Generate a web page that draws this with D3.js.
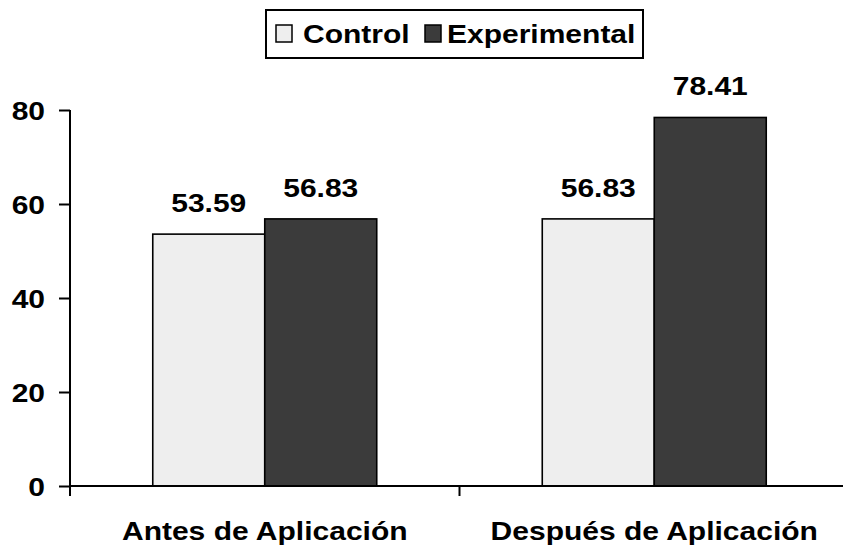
<!DOCTYPE html>
<html>
<head>
<meta charset="utf-8">
<script src="https://cdn.jsdelivr.net/npm/d3@7"></script>
<style>
  html, body { margin: 0; padding: 0; background: #fff; }
  svg text { font-family: "Liberation Sans", Arial, sans-serif; font-weight: bold; fill: #000; }
</style>
</head>
<body>
<svg id="chart" width="843" height="548"></svg>
<script>
const categories = ["Antes de Aplicación", "Después de Aplicación"];
const seriesNames = ["Control", "Experimental"];
const controlValues = [53.59, 56.83];
const experimentalValues = [56.83, 78.41];
const yTicks = [0, 20, 40, 60, 80];
const colors = ["#eeeeee", "#3b3b3b"];

const seriesValues = [controlValues, experimentalValues];
const data = categories.map((c, i) => ({
  category: c,
  values: seriesNames.map((s, j) => ({ series: s, value: seriesValues[j][i], color: colors[j] }))
}));

const svg = d3.select("#chart");
const SX = 1.2;      // horizontal text stretch seen in the reference
const FS = 25;

const plotLeft = 70, plotRight = 849, plotTop = 110, plotBottom = 486;
const x0 = d3.scaleBand().domain(categories).range([plotLeft, plotRight]).padding(0);
const x1 = d3.scaleBand().domain(seriesNames).range([0, x0.bandwidth()])
  .paddingInner(0).paddingOuter(0.739);
const y = d3.scaleLinear().domain([0, 80]).range([plotBottom, plotTop]);

function stretchedText(g, x, yy, txt, anchor) {
  return g.append("text")
    .attr("transform", `translate(${x},${yy}) scale(${SX},1)`)
    .attr("text-anchor", anchor)
    .style("font-size", FS + "px")
    .text(txt);
}

// Bars
const groups = svg.append("g").selectAll("g").data(data).join("g")
  .attr("transform", d => `translate(${x0(d.category)},0)`);

groups.selectAll("rect").data(d => d.values).join("rect")
  .attr("x", d => x1(d.series))
  .attr("y", d => y(d.value))
  .attr("width", x1.bandwidth())
  .attr("height", d => y(0) - y(d.value))
  .attr("fill", d => d.color)
  .attr("stroke", "#000")
  .attr("stroke-width", 1.6);

// Value labels
groups.each(function(d) {
  const g = d3.select(this);
  d.values.forEach(v => {
    stretchedText(g, x1(v.series) + x1.bandwidth() / 2, y(v.value) - 22, v.value.toFixed(2), "middle");
  });
});

// Y axis
const yAxis = d3.axisLeft(y).tickValues(yTicks).tickSize(11).tickPadding(0).tickFormat(d3.format("d"));
const yg = svg.append("g").attr("transform", `translate(${plotLeft},0)`).call(yAxis);
yg.select(".domain").remove();
yg.selectAll(".tick line").attr("stroke", "#000").attr("stroke-width", 2);
yg.selectAll(".tick text").remove();
yg.selectAll(".tick").each(function(d) {
  stretchedText(d3.select(this), -25, 9, d3.format("d")(d), "end");
});
svg.append("line").attr("x1", plotLeft).attr("x2", plotLeft).attr("y1", y(80)).attr("y2", plotBottom + 10)
  .attr("stroke", "#000").attr("stroke-width", 2);

// X axis
svg.append("line").attr("x1", plotLeft).attr("x2", plotRight + 10).attr("y1", plotBottom).attr("y2", plotBottom)
  .attr("stroke", "#000").attr("stroke-width", 2);
const boundaries = categories.map(c => x0(c)).concat([x0(categories[categories.length - 1]) + x0.bandwidth()]);
svg.append("g").selectAll("line").data(boundaries).join("line")
  .attr("x1", d => d).attr("x2", d => d).attr("y1", plotBottom).attr("y2", plotBottom + 10)
  .attr("stroke", "#000").attr("stroke-width", 2);
categories.forEach(c => {
  stretchedText(svg, x0(c) + x0.bandwidth() / 2, 540, c, "middle");
});

// Legend
const lg = svg.append("g");
lg.append("rect").attr("x", 266).attr("y", 10).attr("width", 377).attr("height", 48)
  .attr("fill", "#fff").attr("stroke", "#000").attr("stroke-width", 2);
const legendItems = [
  { name: seriesNames[0], color: colors[0], sx: 276, tx: 303 },
  { name: seriesNames[1], color: colors[1], sx: 425, tx: 447 }
];
legendItems.forEach(it => {
  lg.append("rect").attr("x", it.sx).attr("y", 25).attr("width", 16).attr("height", 17)
    .attr("fill", it.color).attr("stroke", "#000").attr("stroke-width", 1.5);
  stretchedText(lg, it.tx, 43, it.name, "start");
});
</script>
</body>
</html>
